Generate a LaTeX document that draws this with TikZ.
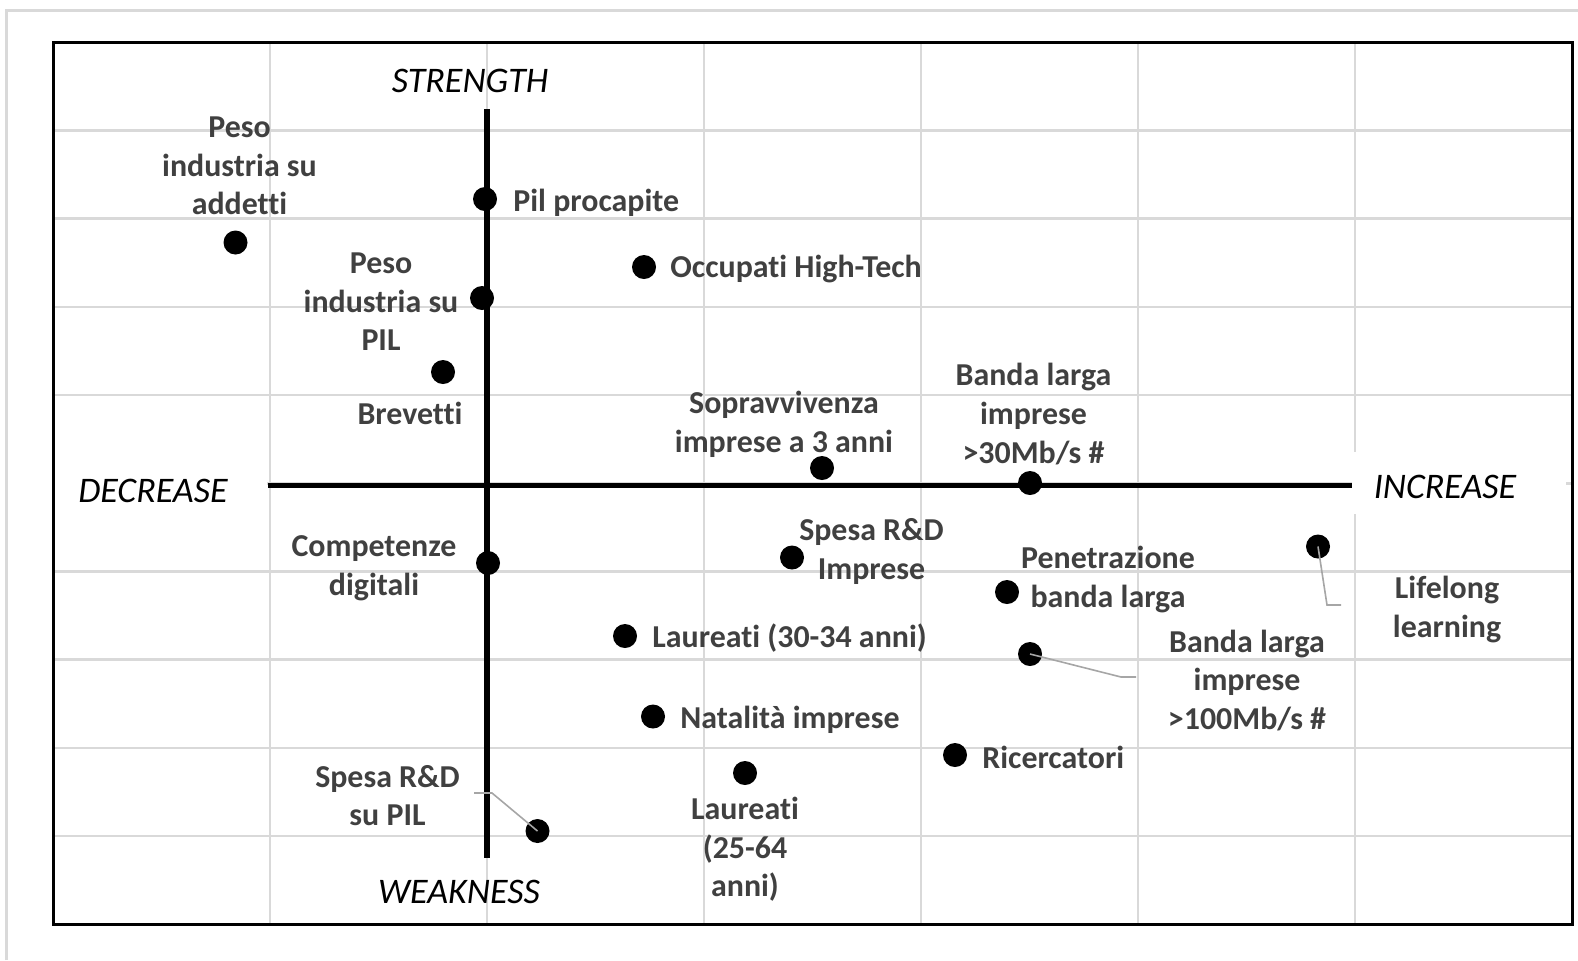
\documentclass[tikz,border=0pt]{standalone}
\usepackage{fontspec}
\setmainfont{Carlito}[Ligatures=NoCommon]
\definecolor{gridgrey}{HTML}{D9D9D9}
\definecolor{labgrey}{HTML}{404040}
\definecolor{leadgrey}{HTML}{A6A6A6}
\begin{document}
\begin{tikzpicture}[x=0.5pt,y=-0.5pt,
  dot/.style={circle,fill=black,inner sep=0pt,minimum size=12pt},
  lbl/.style={inner sep=0pt,text=labgrey,font=\fontsize{15.95}{19.3}\selectfont\bfseries,align=center},
  axlbl/.style={inner sep=0pt,text=black,font=\fontsize{18}{22}\selectfont\itshape},
  gridline/.style={draw=gridgrey,line width=1.25pt},
  axisline/.style={draw=black,line width=2.8pt},
  leader/.style={draw=leadgrey,line width=0.8pt}]
\useasboundingbox (0,0) rectangle (1578,960);
% outer light frame
\draw[gridgrey,line width=1.5pt] (6,960) -- (6,10) -- (1578,10);
% grid
\foreach \gx in {270,487,704,921,1138,1355} \draw[gridline] (\gx,42.3) -- (\gx,924);
\foreach \k in {1,...,9} \draw[gridline] (53.3,{42.3+88.2*\k}) -- (1572,{42.3+88.2*\k});
% white boxes behind the horizontal axis labels
\fill[white] (55,455) rectangle (267,516);
\fill[white] (1352,452) rectangle (1566,514);
% frame
\draw[black,line width=1.5pt] (53.3,42.3) rectangle (1572,924);
% axes
\draw[axisline] (487,109) -- (487,858);
\draw[axisline] (268,485.5) -- (1352,485.5);
% axis labels
\node[axlbl] (strength) at (470,81) {STRENGTH};
\node[axlbl] (weakness) at (459,892) {WEAKNESS};
\node[axlbl] (decrease) at (153,491) {DECREASE};
\node[axlbl] (increase) at (1445,487) {INCREASE};
% data points
\node[dot] (p1) at (235.5,242.5) {};
\node[lbl] (t1) at (239.5,166) {Peso\\industria su\\addetti};
\node[dot] (p2) at (485,199) {};
\node[lbl,anchor=west] (t2) at (513,202.5) {Pil procapite};
\node[dot] (p3) at (482,298) {};
\node[lbl] (t3) at (381,302) {Peso\\industria su\\PIL};
\node[dot] (p4) at (443,372) {};
\node[lbl] (t4) at (410,413.5) {Brevetti};
\node[dot] (p5) at (644,267) {};
\node[lbl,anchor=west] (t5) at (670,269.5) {Occupati High-Tech};
\node[dot] (p6) at (822,468) {};
\node[lbl] (t6) at (784,424.5) {Sopravvivenza\\imprese a 3 anni};
\node[dot] (p7) at (1030,483) {};
\node[lbl] (t7) at (1033.5,414) {Banda larga\\imprese\\>30Mb/s \#};
\node[dot] (p8) at (488,563) {};
\node[lbl] (t8) at (374,568.5) {Competenze\\digitali};
\node[dot] (p9) at (792,557.5) {};
\node[lbl] (t9) at (871.5,551.5) {Spesa R\&D\\Imprese};
\node[dot] (p10) at (1007,592) {};
\node[lbl] (t10) at (1108,579.5) {Penetrazione\\banda larga};
\node[dot] (p11) at (1318,546.5) {};
\node[lbl] (t11) at (1447,609.5) {Lifelong\\learning};
\node[dot] (p12) at (625,636) {};
\node[lbl,anchor=west] (t12) at (652,638.5) {Laureati (30-34 anni)};
\node[dot] (p13) at (1030,654) {};
\node[lbl] (t13) at (1247,680.5) {Banda larga\\imprese\\>100Mb/s \#};
\node[dot] (p14) at (653,716.5) {};
\node[lbl,anchor=west] (t14) at (680,719.5) {Natalità imprese};
\node[dot] (p15) at (955,755) {};
\node[lbl,anchor=west] (t15) at (982,757) {Ricercatori};
\node[dot] (p16) at (745,773) {};
\node[lbl] (t16) at (745,849.5) {Laureati\\(25-64\\anni)};
\node[dot] (p17) at (537.5,831) {};
\node[lbl] (t17) at (387.5,795.5) {Spesa R\&D\\su PIL};
% leader lines
\coordinate (c11a) at (1327,605);
\coordinate (c11b) at (1341,605);
\draw[leader] (p11.center) -- (c11a) -- (c11b);
\coordinate (c13a) at (1121,677);
\coordinate (c13b) at (1136,677);
\draw[leader] (p13.center) -- (c13a) -- (c13b);
\coordinate (c17a) at (474,793);
\coordinate (c17b) at (492,793);
\draw[leader] (c17a) -- (c17b) -- (p17.center);
\end{tikzpicture}
\end{document}
